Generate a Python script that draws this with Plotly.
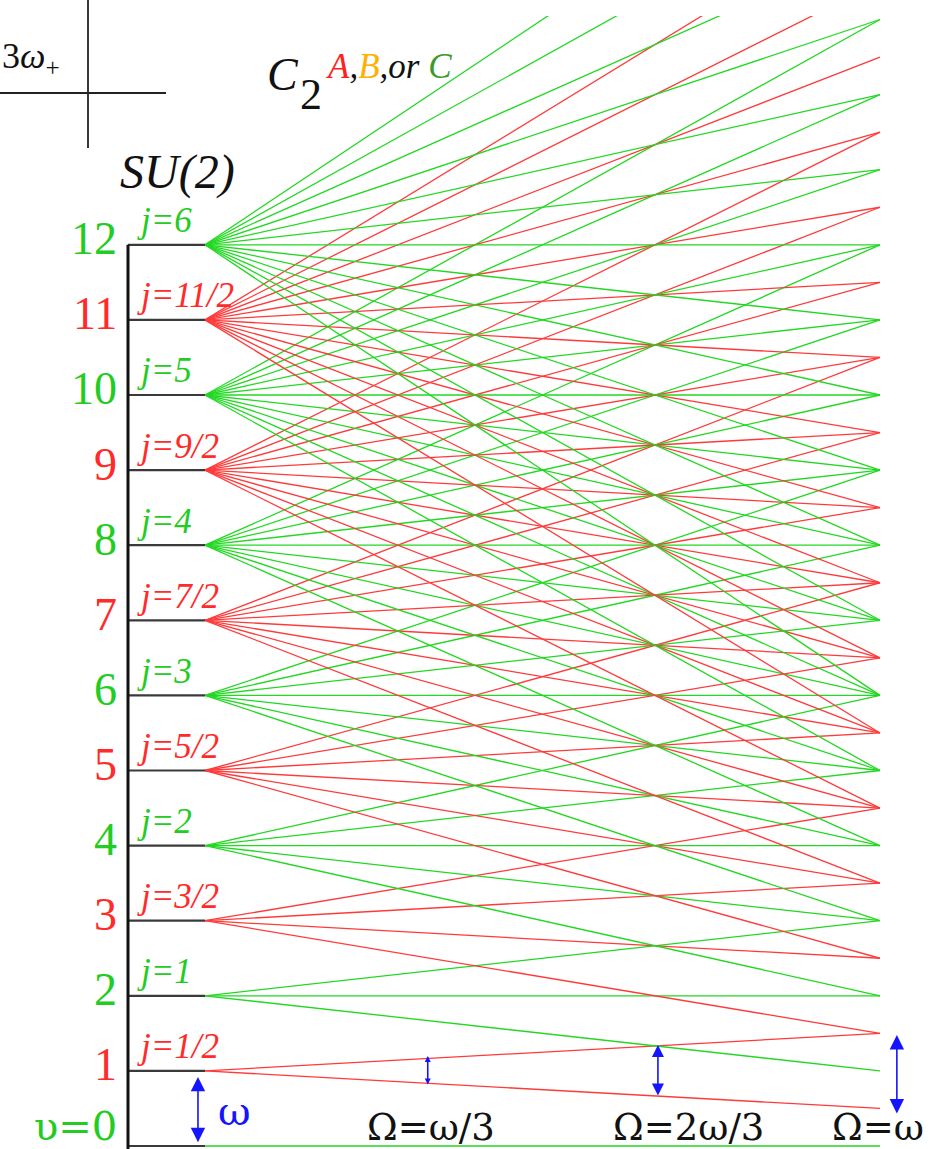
import numpy as np
import plotly.graph_objects as go

# ---------------- data ----------------
levels = list(range(0, 13))                       # vibrational quantum number v
level_labels = ["υ=0", "1", "2", "3", "4", "5", "6", "7", "8", "9", "10", "11", "12"]
j_labels = ["", "j=1/2", "j=1", "j=3/2", "j=2", "j=5/2", "j=3",
            "j=7/2", "j=4", "j=9/2", "j=5", "j=11/2", "j=6"]
level_colors = ["green", "red", "green", "red", "green", "red", "green",
                "red", "green", "red", "green", "red", "green"]
omega_fracs = [1/3, 2/3, 1.0]                      # Ω/ω at the three marked columns
omega_labels = ["Ω=ω/3", "Ω=2ω/3", "Ω=ω"]
omega_label_x = [0.335, 0.717, 0.997]
# gap arrows: x position, lower end, upper end (energy in units of ω)
arrow_x = [-0.0104, 0.330, 0.671, 1.025]
arrow_lo = [0.03, 0.80, 0.652, 0.413]
arrow_hi = [0.92, 1.20, 1.345, 1.478]
arrow_head = [1.8, 0.75, 1.5, 1.8]

GREEN_LINE = "#22d822"
GREEN_TXT = "#22cc22"
RED_LINE = "#ff3a3a"
RED_TXT = "#ff2a2a"
BLUE = "#1414ff"
col_line = {"green": GREEN_LINE, "red": RED_LINE}
col_txt = {"green": GREEN_TXT, "red": RED_TXT}

W, H = 930, 1149
TOP = 16
def Ey(ypx):
    return (1146 - ypx) / 75.1
def Tx(xpx):
    return (xpx - 205) / 675

fig = go.Figure()

STUB_X = Tx(128)

# fans of C2 splitting lines: E = v + m * (Ω/ω), m = -j..j
for v, c in zip(levels, level_colors):
    j = v / 2
    xs, ys = [], []
    for m in np.arange(-j, j + 0.5, 1.0):
        xs += [0, 1, None]
        ys += [v, v + m, None]
    fig.add_trace(go.Scatter(x=xs, y=ys, mode="lines",
                             line=dict(color=col_line[c], width=1.3),
                             hoverinfo="skip", showlegend=False))

# SU(2) stubs
sx, sy = [], []
for v in levels:
    sx += [STUB_X, 0, None]
    sy += [v, v, None]
fig.add_trace(go.Scatter(x=sx, y=sy, mode="lines",
                         line=dict(color="#3a3a3a", width=2.2),
                         hoverinfo="skip", showlegend=False))
fig.add_trace(go.Scatter(x=[STUB_X, STUB_X], y=[Ey(1149), levels[-1]], mode="lines",
                         line=dict(color="#111111", width=3),
                         hoverinfo="skip", showlegend=False))

ann = []
SERIF = "Liberation Serif"
# level numbers
for v, lab, c in zip(levels, level_labels, level_colors):
    if v > 0:
        ann.append(dict(x=Tx(119), y=v + 0.08, text=lab, showarrow=False, xanchor="right",
                        yanchor="middle",
                        font=dict(family=SERIF, size=46, color=col_txt[c])))
    else:
        ann.append(dict(x=Tx(119), y=0.27, text=lab, showarrow=False, xanchor="right",
                        yanchor="middle",
                        font=dict(family="DejaVu Serif", size=40, color=col_txt[c])))
# j labels
for v, lab, c in zip(levels, j_labels, level_colors):
    if not lab:
        continue
    ann.append(dict(x=Tx(135), y=v + 0.32, text="<i>" + lab + "</i>", showarrow=False,
                    xanchor="left", yanchor="middle",
                    font=dict(family=SERIF, size=35, color=col_txt[c])))
# SU(2)
ann.append(dict(x=Tx(177), y=Ey(172), text="<i>SU(2)</i>", showarrow=False,
                xanchor="center", yanchor="middle",
                font=dict(family=SERIF, size=48, color="#111111")))
# C2^{A,B,or C}
ann.append(dict(x=Tx(283), y=Ey(74), text="<i>C</i>", showarrow=False,
                xanchor="center", yanchor="middle",
                font=dict(family=SERIF, size=46, color="#111111")))
ann.append(dict(x=Tx(311), y=Ey(94), text="2", showarrow=False,
                xanchor="center", yanchor="middle",
                font=dict(family=SERIF, size=44, color="#111111")))
ann.append(dict(x=Tx(324), y=Ey(66),
                text=("<i><span style='color:#ff2020'>A</span>,"
                      "<span style='color:#ffb000'>B</span>,or "
                      "<span style='color:#3c9a2a'>C</span></i>"),
                showarrow=False, xanchor="left", yanchor="middle",
                font=dict(family=SERIF, size=35, color="#111111")))
# 3ω+
ann.append(dict(x=Tx(0), y=Ey(58), text="3<i>ω</i><sub>+</sub>", showarrow=False,
                xanchor="left", yanchor="middle",
                font=dict(family=SERIF, size=36, color="#111111")))
# Ω labels
for xo, lab in zip(omega_label_x, omega_labels):
    ann.append(dict(x=xo, y=Ey(1127), text=lab, showarrow=False,
                    xanchor="center", yanchor="middle",
                    font=dict(family="DejaVu Serif", size=37, color="#111111")))
# ω label
ann.append(dict(x=Tx(234), y=Ey(1111), text="ω", showarrow=False,
                xanchor="center", yanchor="middle",
                font=dict(family="DejaVu Serif", size=40, color=BLUE)))
# blue double arrows
for xa, lo, hi, hs in zip(arrow_x, arrow_lo, arrow_hi, arrow_head):
    ann.append(dict(x=xa, y=hi, ax=xa, ay=lo, axref="x", ayref="y", xref="x", yref="y",
                    text="", showarrow=True, arrowhead=2, arrowside="end+start",
                    arrowsize=hs, arrowwidth=1.6, arrowcolor=BLUE, standoff=0,
                    startstandoff=0))

PH = H - TOP
shapes = [
    dict(type="line", xref="paper", yref="paper", x0=88 / W, x1=88 / W,
         y0=(H - 148) / PH, y1=H / PH, line=dict(color="#222222", width=1.8)),
    dict(type="line", xref="paper", yref="paper", x0=0, x1=166 / W,
         y0=(H - 93) / PH, y1=(H - 93) / PH, line=dict(color="#222222", width=1.8)),
]

fig.update_layout(
    width=W, height=H,
    margin=dict(l=0, r=0, t=TOP, b=0, pad=0),
    paper_bgcolor="white", plot_bgcolor="white",
    xaxis=dict(range=[Tx(0), Tx(W)], visible=False, fixedrange=True),
    yaxis=dict(range=[Ey(H), Ey(TOP)], visible=False, fixedrange=True),
    annotations=ann, shapes=shapes, showlegend=False,
)

fig.write_html("out.html", config={"displayModeBar": False},
               post_script="document.body.style.margin='0px';document.body.style.overflow='hidden';")
